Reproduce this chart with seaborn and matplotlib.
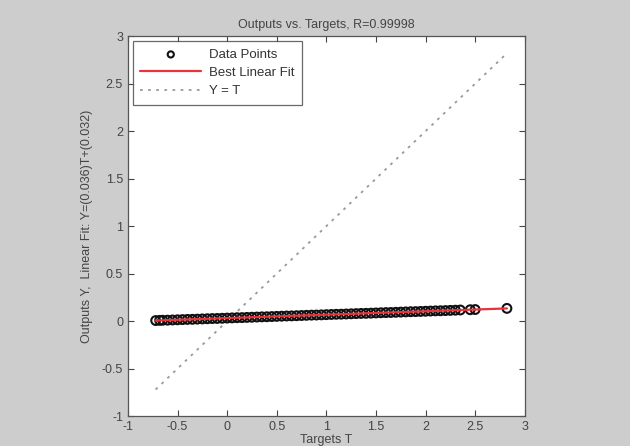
import seaborn as sns
import matplotlib.pyplot as plt
import numpy as np
import pandas as pd

# Targets and network outputs
targets = [-0.72, -0.68, -0.65, -0.6, -0.55, -0.5, -0.45, -0.4, -0.35, -0.3,
           -0.25, -0.2, -0.15, -0.1, -0.05, 0.0, 0.05, 0.1, 0.15, 0.2,
           0.25, 0.3, 0.35, 0.4, 0.45, 0.5, 0.55, 0.6, 0.65, 0.7,
           0.75, 0.8, 0.85, 0.9, 0.95, 1.0, 1.05, 1.1, 1.15, 1.2,
           1.25, 1.3, 1.35, 1.4, 1.45, 1.5, 1.55, 1.6, 1.65, 1.7,
           1.75, 1.8, 1.85, 1.9, 1.95, 2.0, 2.05, 2.1, 2.15, 2.2,
           2.25, 2.3, 2.35, 2.45, 2.5, 2.82]
outputs = [0.006, 0.008, 0.009, 0.010, 0.012, 0.014, 0.016, 0.018, 0.019, 0.021,
           0.023, 0.025, 0.027, 0.028, 0.030, 0.032, 0.034, 0.036, 0.037, 0.039,
           0.041, 0.043, 0.045, 0.046, 0.048, 0.050, 0.052, 0.054, 0.055, 0.057,
           0.059, 0.061, 0.063, 0.064, 0.066, 0.068, 0.070, 0.072, 0.073, 0.075,
           0.077, 0.079, 0.081, 0.082, 0.084, 0.086, 0.088, 0.090, 0.091, 0.093,
           0.095, 0.097, 0.099, 0.100, 0.102, 0.104, 0.106, 0.108, 0.109, 0.111,
           0.113, 0.115, 0.117, 0.120, 0.122, 0.134]

df = pd.DataFrame({'T': targets, 'Y': outputs})

# Best linear fit and identity line over the target range
slope, intercept = np.polyfit(df['T'], df['Y'], 1)
t_range = np.array([df['T'].min(), df['T'].max()])
fit_df = pd.DataFrame({'T': t_range, 'Y': slope * t_range + intercept})
ident_df = pd.DataFrame({'T': t_range, 'Y': t_range})

sns.set_style("ticks")
plt.rcParams['font.family'] = ['Liberation Sans', 'DejaVu Sans']
plt.rcParams['xtick.direction'] = 'in'
plt.rcParams['ytick.direction'] = 'in'

fig = plt.figure(figsize=(6.3, 4.46), dpi=100, facecolor='#cdcdcd')
ax = fig.add_axes([0.203, 0.067, 0.630, 0.852])
ax.set_facecolor('white')

sns.scatterplot(data=df, x='T', y='Y', ax=ax, marker='o', s=40,
                facecolor='none', edgecolor='#111111', linewidth=1.5,
                label='Data Points', zorder=3)
sns.lineplot(data=fit_df, x='T', y='Y', ax=ax, color='#e8323c', linewidth=1.6,
             label='Best Linear Fit', zorder=4)
sns.lineplot(data=ident_df, x='T', y='Y', ax=ax, color='#999999', linewidth=1.3,
             linestyle=(0, (1.5, 3)), label='Y = T', zorder=2)

ax.set_xlim(-1, 3)
ax.set_ylim(-1, 3)
ax.set_xticks(np.arange(-1, 3.01, 0.5))
ax.set_yticks(np.arange(-1, 3.01, 0.5))
ax.set_xticklabels(['-1', '-0.5', '0', '0.5', '1', '1.5', '2', '2.5', '3'])
ax.set_yticklabels(['-1', '-0.5', '0', '0.5', '1', '1.5', '2', '2.5', '3'])
ax.tick_params(top=True, right=True, labelsize=9, colors='#444444',
               length=4, width=0.8)
for sp in ax.spines.values():
    sp.set_color('#555555')
    sp.set_linewidth(0.9)

ax.set_title('Outputs vs. Targets, R=0.99998', fontsize=9, color='#444444', pad=6)
ax.set_xlabel('Targets T', fontsize=9, color='#444444', labelpad=1)
ax.set_ylabel('Outputs Y,  Linear Fit: Y=(0.036)T+(0.032)', fontsize=9,
              color='#444444', labelpad=6)

leg = ax.legend(loc='upper left', fontsize=9.5, frameon=True, fancybox=False,
                edgecolor='#444444', borderaxespad=0.4, borderpad=0.55,
                handlelength=4.6, handletextpad=0.6, labelspacing=0.45,
                markerscale=0.7)
leg.get_frame().set_linewidth(0.9)
for txt in leg.get_texts():
    txt.set_color('#333333')

fig.savefig('out.png', dpi=100, facecolor=fig.get_facecolor())
